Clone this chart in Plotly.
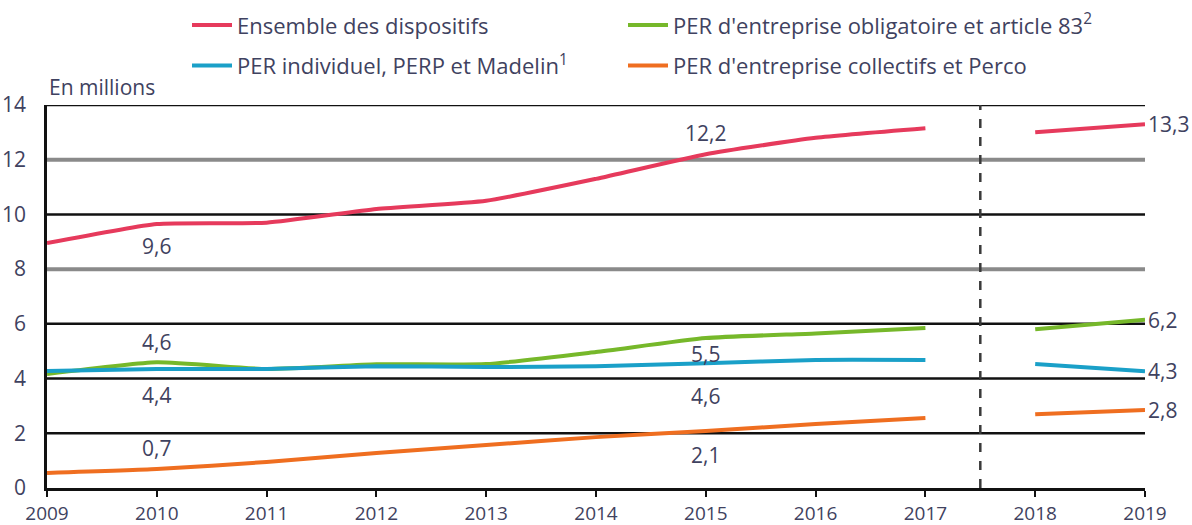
import plotly.graph_objects as go

years = [2009, 2010, 2011, 2012, 2013, 2014, 2015, 2016, 2017, 2018, 2019]
ensemble = [8.95, 9.65, 9.7, 10.2, 10.5, 11.3, 12.2, 12.8, 13.15, 13.0, 13.3]
obligatoire = [4.17, 4.6, 4.35, 4.52, 4.53, 4.97, 5.48, 5.65, 5.85, 5.8, 6.15]
individuel = [4.28, 4.35, 4.35, 4.45, 4.42, 4.45, 4.56, 4.68, 4.68, 4.53, 4.27]
collectifs = [0.55, 0.69, 0.95, 1.28, 1.57, 1.86, 2.08, 2.34, 2.56, 2.7, 2.85]

names = ["Ensemble des dispositifs",
         "PER d'entreprise obligatoire et article 83<sup>2</sup>",
         "PER individuel, PERP et Madelin<sup>1</sup>",
         "PER d'entreprise collectifs et Perco"]
colors = ["#e63a5c", "#76b82a", "#1aa0c8", "#ef6e20"]
series = [ensemble, obligatoire, individuel, collectifs]
legends = ["legend", "legend2", "legend", "legend2"]

y_ticks = [0, 2, 4, 6, 8, 10, 12, 14]
break_after = 2017

# labels: (series index, year, text, direction)
labels = [
    (0, 2010, "9,6", "below"), (0, 2015, "12,2", "above"),
    (1, 2010, "4,6", "above"), (1, 2015, "5,5", "below"),
    (2, 2010, "4,4", "below"), (2, 2015, "4,6", "below"),
    (3, 2010, "0,7", "above"), (3, 2015, "2,1", "below"),
]
end_labels = ["13,3", "6,2", "4,3", "2,8"]

# label offsets (px) - styling only
label_shift = {(0, 2010): -6, (0, 2015): 5, (1, 2010): 4, (1, 2015): 0,
               (2, 2010): -10, (2, 2015): -17, (3, 2010): 5, (3, 2015): -8}

TXT = "#3f4260"
FONT = "Open Sans"
FS = 21

fig = go.Figure()
for i, (vals, name, col, lg) in enumerate(zip(series, names, colors, legends)):
    first = [(x, v) for x, v in zip(years, vals) if x <= break_after]
    second = [(x, v) for x, v in zip(years, vals) if x > break_after]
    fig.add_trace(go.Scatter(
        x=[p[0] for p in first], y=[p[1] for p in first], mode="lines",
        name=name, legend=lg, legendgroup=name,
        line=dict(color=col, width=4, shape="spline", smoothing=0.5),
        hoverinfo="skip"))
    fig.add_trace(go.Scatter(
        x=[p[0] for p in second], y=[p[1] for p in second], mode="lines",
        name=name, legend=lg, legendgroup=name, showlegend=False,
        line=dict(color=col, width=4), hoverinfo="skip"))

annotations = []
for si, yr, txt, d in labels:
    v = series[si][years.index(yr)]
    annotations.append(dict(
        x=yr, y=v, text=txt, showarrow=False, xref="x", yref="y",
        yanchor="bottom" if d == "above" else "top",
        yshift=label_shift[(si, yr)],
        font=dict(size=FS, color=TXT, family=FONT)))
for si, txt in enumerate(end_labels):
    annotations.append(dict(
        x=years[-1], y=series[si][-1], text=txt, showarrow=False,
        xanchor="left", xshift=1, yanchor="middle",
        font=dict(size=FS, color=TXT, family=FONT)))
annotations.append(dict(
    x=0, y=1, xref="paper", yref="paper", text="En millions",
    showarrow=False, xanchor="left", yanchor="bottom", yshift=2,
    font=dict(size=FS, color=TXT, family=FONT)))

shapes = []
for t in y_ticks[1:]:
    gray = t in (8, 12)
    shapes.append(dict(
        type="line", xref="paper", yref="y", x0=0, x1=1, y0=t, y1=t,
        layer="below",
        line=dict(color="#8a8a8a" if gray else "#111111", width=4 if gray else 2.5)))
shapes.append(dict(
    type="line", xref="x", yref="y", x0=break_after + 0.5, x1=break_after + 0.5,
    y0=0, y1=y_ticks[-1], line=dict(color="#3a3a3a", width=2.5, dash="dash")))

legend_style = dict(xref="container", yref="container", xanchor="left", yanchor="top",
                    orientation="v", tracegroupgap=9, bgcolor="rgba(0,0,0,0)",
                    font=dict(size=22, color=TXT, family=FONT), itemwidth=40)

fig.update_layout(
    width=1192, height=525,
    margin=dict(l=47, r=47, t=105, b=37, autoexpand=False),
    paper_bgcolor="white", plot_bgcolor="white",
    font=dict(family=FONT, size=FS, color=TXT),
    xaxis=dict(range=[2009, 2019], tickvals=years, ticktext=[str(y) for y in years],
               showgrid=False, zeroline=False, showline=True, linecolor="#111111",
               linewidth=2.5, ticks="outside", ticklen=6, tickwidth=2, tickcolor="#111111",
               tickfont=dict(size=19, color=TXT), automargin=False),
    yaxis=dict(range=[0, 14], tickvals=y_ticks, showgrid=False, zeroline=False,
               showline=True, linecolor="#111111", linewidth=2.5,
               ticks="", ticklabelstandoff=14, tickfont=dict(size=FS, color=TXT),
               automargin=False),
    legend=dict(x=187 / 1192, y=0.992, **legend_style),
    legend2=dict(x=623 / 1192, y=0.992, **legend_style),
    showlegend=True,
    annotations=annotations, shapes=shapes,
)

fig.write_html("out.html", config={"displayModeBar": False},
               post_script="document.body.style.margin='0';document.body.style.overflow='hidden';")
